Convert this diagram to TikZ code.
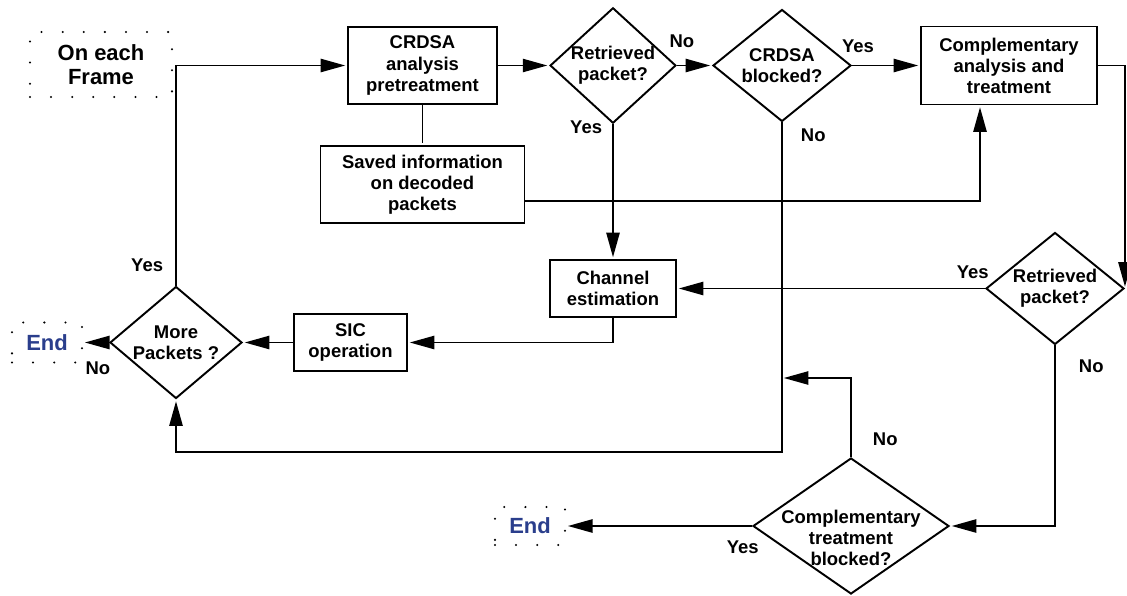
\documentclass[tikz,border=0pt]{standalone}
\usepackage{fontspec}
\setmainfont{Liberation Sans}
\usetikzlibrary{arrows.meta,shapes.geometric}

\definecolor{endblue}{RGB}{42,62,140}

\tikzset{
  process/.style={draw, rectangle, align=center, inner sep=1pt},
  decision/.style={draw, diamond, align=center, inner sep=0pt},
  terminal/.style={draw, line width=1.3pt, line cap=round, dash pattern=on 0pt off 12pt, align=center},
  answer/.style={inner sep=0pt},
}

\begin{document}
\begin{tikzpicture}[>={Triangle[length=14pt,width=7.5pt]},shorten >=1pt,line width=1.1pt,node distance=2cm,font=\bfseries\fontsize{10.5}{12}\selectfont]
  \useasboundingbox (0,0) rectangle (22.54,-11.92);
  \node[terminal, minimum width=2.84cm, minimum height=1.3cm, font=\bfseries\fontsize{12.5}{14}\selectfont] (frame) at (2.02,-1.29) {On each\\Frame};
  \node[process, minimum width=2.98cm, minimum height=1.54cm] (crdsa) at (8.45,-1.31) {CRDSA\\analysis\\pretreatment};
  \node[decision, aspect=1.09, minimum width=2.5cm, minimum height=2.3cm] (ret1) [right of=crdsa, node distance=3.81cm] {Retrieved\\packet?};
  \node[decision, aspect=1.23, minimum width=2.76cm, minimum height=2.24cm] (blocked) [right of=ret1, node distance=3.38cm] {CRDSA\\blocked?};
  \node[process, minimum width=3.52cm, minimum height=1.56cm] (comp) [right of=blocked, node distance=4.54cm] {Complementary\\analysis and\\treatment};
  \node[process, minimum width=4.08cm, minimum height=1.54cm] (saved) [below of=crdsa, node distance=2.38cm] {Saved information\\on decoded\\packets};
  \node[process, minimum width=2.52cm, minimum height=1.14cm] (chan) [below of=ret1, node distance=4.46cm] {Channel\\estimation};
  \node[decision, aspect=1.23, minimum width=2.76cm, minimum height=2.24cm] (ret2) [right of=chan, node distance=8.84cm] {Retrieved\\packet?};
  \node[process, minimum width=2.26cm, minimum height=1.14cm] (sic) at (7.01,-6.85) {SIC\\operation};
  \node[decision, aspect=1.18, minimum width=2.64cm, minimum height=2.24cm] (more) [left of=sic, node distance=3.49cm] {More\\Packets ?};
  \node[terminal, minimum width=1.4cm, minimum height=0.8cm, text=endblue, font=\bfseries\fontsize{12.5}{14}\selectfont] (end1) [left of=more, node distance=2.58cm] {End};
  \node[decision, minimum width=3.92cm, minimum height=2.72cm,
        label={[align=center, yshift=-0.24cm]center:{Complementary\\treatment\\blocked?}}] (ctb) at (17.02,-10.52) {};
  \node[terminal, minimum width=1.4cm, minimum height=0.76cm, text=endblue, font=\bfseries\fontsize{12.5}{14}\selectfont] (end2) [left of=ctb, node distance=6.42cm] {End};
  \coordinate[below of=blocked, node distance=7.73cm] (back);
  \coordinate[below of=blocked, node distance=6.25cm] (merge);

  \draw[->] (more) |- node[answer, left=0.24cm, pos=0.045] {Yes} (crdsa);
  \draw[->] (crdsa) -- (ret1);
  \draw[->] (ret1) -- node[answer, above=0.34cm, pos=0.14] {No} (blocked);
  \draw[->] (blocked) -- node[answer, above=0.24cm, pos=0.09] {Yes} (comp);
  \draw[->] (comp.east) -| (ret2.east);
  \draw (crdsa) -- (saved);
  \draw[->] ([yshift=-0.33cm]saved.east) -| ([xshift=-0.58cm]comp.south);
  \draw[->] (ret1) -- node[answer, left=0.2cm, pos=0.026] {Yes} (chan);
  \draw[->] (ret2) -- node[answer, above=0.18cm, pos=0.04] {Yes} (chan);
  \draw[->] (chan.south) |- (sic.east);
  \draw[->] (sic) -- (more);
  \draw[->] (more) -- node[answer, below=0.36cm, pos=0.43] {No} (end1);
  \draw[->] (blocked) -- node[answer, right=0.36cm, pos=0.04] {No} (back) -| (more);
  \draw[->] (ret2) |- node[answer, right=0.46cm, pos=0.058] {No} (ctb);
  \draw[->] (ctb) |- node[answer, right=0.42cm, pos=0.11] {No} (merge);
  \draw[->] (ctb) -- node[answer, below=0.28cm, pos=0.05] {Yes} (end2);
\end{tikzpicture}
\end{document}
